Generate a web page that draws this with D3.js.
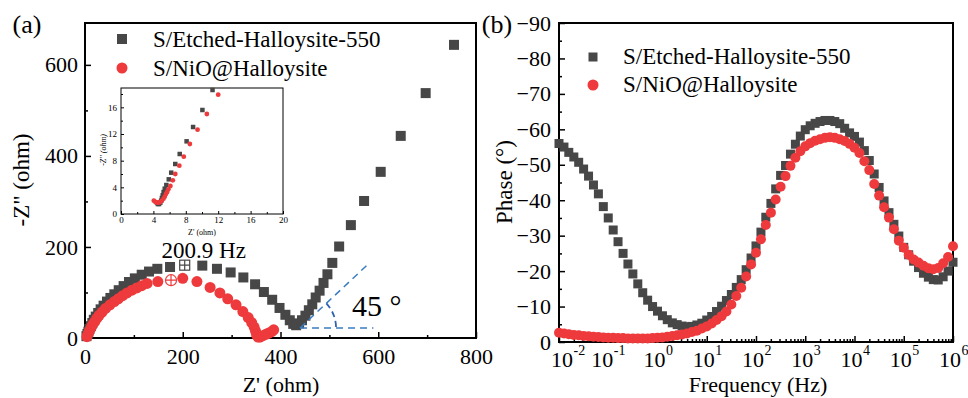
<!DOCTYPE html>
<html lang="en">
<head>
<meta charset="UTF-8" />
<script src="https://cdnjs.cloudflare.com/ajax/libs/d3/7.8.5/d3.min.js"></script>
<title>EIS</title>
<style>
  body { margin: 0; background: #fff; }
  svg text { font-family: "Liberation Serif", "Times New Roman", serif !important; fill: #000; }
  .tick line { stroke: #000; stroke-width: 1.5; }
  .inset .tick line { stroke-width: 1; }
</style>
</head>
<body>
<script>
// ---- data ----
const seriesNames = ["S/Etched-Halloysite-550", "S/NiO@Halloysite"];
const colorEtched = "#474747";
const colorNiO = "#ee3a3c";

// Nyquist (Z', -Z'') in ohm
const nyqEtched = [[3,4],[5,9],[7,14],[9,20],[12,26],[15,33],[18,40],[22,47],[27,55],[32,63],[38,71],[45,80],[52,88],[60,96],[69,105],[79,114],[90,123],[102,131],[116,139],[131,146],[148,152],[174,156],[240,159],[270,152],[298,144],[324,133],[348,118],[366,101],[383,84],[398,66],[410,51],[419,39],[426,31],[432,28],[438,32],[444,39],[451,49],[458,61],[465,74],[472,89],[480,104],[488,121],[496,140],[506,165],[520,201],[544,248],[571,301],[605,365],[646,444],[697,538],[755,644]];
const nyqNiO = [[4,3],[6,8],[8,13],[10,18],[13,24],[16,30],[20,36],[24,43],[29,50],[35,57],[42,65],[51,73],[60,80],[68,86],[77,93],[86,99],[96,105],[106,110],[116,115],[127,120],[149,124],[200,131],[229,124],[256,111],[276,99],[292,86],[309,73],[323,58],[334,45],[341,34],[346,24],[349,15],[351,7],[354,2],[358,2],[364,5],[370,8],[376,11],[382,14],[386,18]];
// points at 200.9 Hz, drawn with open crossed markers
const markEtched = [204, 160];
const markNiO = [176, 127];
const markLabel = "200.9 Hz";
// 45 degree guide (data units)
const guideStart = [440, 22];
const guideEndH = [590, 22];
const guideEndD = [577, 160];

// inset (zoom on high frequency region)
const insetEtched = [[4.45,1.7],[4.55,1.5],[4.7,1.5],[4.85,1.7],[4.95,2.0],[5.05,2.4],[5.15,2.8],[5.26,3.3],[5.4,3.8],[5.6,4.35],[5.9,5.2],[6.2,6.2],[6.7,7.5],[7.25,9.0],[8.1,10.9],[8.9,13.05],[10.05,15.6],[11.3,18.6]];
const insetNiO = [[4.05,2.0],[4.25,1.8],[4.45,1.7],[4.65,1.7],[4.85,1.8],[5.05,2.0],[5.25,2.3],[5.4,2.6],[5.55,3.0],[5.7,3.3],[5.85,3.7],[6.1,4.2],[6.4,5.05],[6.7,6.0],[7.2,7.25],[7.75,8.6],[8.5,10.5],[9.45,12.65],[10.6,15.0],[12.0,17.9]];

// Bode phase
const freq = [0.01,0.0126,0.0158,0.02,0.0251,0.0316,0.0398,0.0501,0.0631,0.0794,
  0.1,0.126,0.158,0.2,0.251,0.316,0.398,0.501,0.631,0.794,
  1,1.26,1.58,2,2.51,3.16,3.98,5.01,6.31,7.94,
  10,12.6,15.8,20,25.1,31.6,39.8,50.1,63.1,79.4,
  100,126,158,200.9,251,316,398,501,631,794,
  1000,1259,1585,1995,2512,3162,3981,5012,6310,7943,
  10000,12589,15849,19953,25119,31623,39811,50119,63096,79433,
  100000,125893,158489,199526,251189,316228,398107,501187,630957,794328,1000000];
const phaseEtched = [-56,-55,-53.5,-52.2,-50.7,-48.8,-46.8,-44.3,-41.8,-38.2,
  -35,-31.6,-28.3,-25,-22,-19.2,-16.4,-13.9,-11.8,-10,
  -8.7,-7.4,-6.3,-5.4,-4.9,-4.5,-4.3,-4.4,-4.8,-5.3,
  -6.2,-7.2,-8.6,-10.1,-11.7,-13.4,-15.4,-17.6,-20.4,-23.7,
  -27.1,-31,-35.2,-39.1,-43.2,-47,-49.8,-53,-55.8,-58.1,
  -59.9,-61,-61.7,-62.2,-62.5,-62.5,-62.2,-61.6,-60.3,-59,
  -58,-56.4,-54,-51.2,-47.4,-43.6,-39.8,-36.5,-33.2,-29.9,
  -26.7,-24.6,-22.8,-21,-19.4,-18.3,-17.6,-17.5,-18.4,-20,-22.5];
const phaseNiO = [-2.6,-2.4,-2.2,-2,-1.9,-1.7,-1.6,-1.5,-1.4,-1.3,
  -1.2,-1.2,-1.1,-1.1,-1,-1,-1,-1,-1,-1.1,
  -1.2,-1.3,-1.5,-1.7,-1.9,-2.1,-2.4,-2.8,-3.2,-3.8,
  -4.4,-5.2,-6.2,-7.3,-8.6,-10.6,-13,-15.3,-18.5,-21.9,
  -25.2,-29,-33,-36.5,-40.2,-43.8,-46.8,-49.7,-52,-53.8,
  -55.2,-56.1,-56.8,-57.2,-57.6,-57.8,-57.6,-57.2,-56.7,-55.9,
  -54.8,-53.3,-51,-48.5,-44.6,-41.3,-38,-35.1,-31.8,-28.6,
  -26.6,-24.6,-23.3,-22.4,-21.5,-20.8,-20.5,-20.9,-22.2,-24,-27];

const ticksA_x = [0, 200, 400, 600, 800];
const ticksA_y = [0, 200, 400, 600];
const ticksB_y = [0, -10, -20, -30, -40, -50, -60, -70, -80, -90];
const decades = [-2, -1, 0, 1, 2, 3, 4, 5, 6];

// ---- drawing ----
const FONT = "Liberation Serif, Times New Roman, serif";
const svg = d3.select("body").append("svg").attr("width", 968).attr("height", 398)
  .attr("font-family", FONT);

const A = { left: 85, right: 476, top: 23, bottom: 338 };
const B = { left: 559, right: 953, top: 23, bottom: 342 };
const I = { left: 121, right: 283, top: 88, bottom: 214 };

const xA = d3.scaleLinear().domain([0, 800]).range([A.left, A.right]);
const yA = d3.scaleLinear().domain([0, 692]).range([A.bottom, A.top]);
const xI = d3.scaleLinear().domain([0, 20]).range([I.left, I.right]);
const yI = d3.scaleLinear().domain([0, 18.9]).range([I.bottom, I.top]);
const xB = d3.scaleLog().domain([0.01, 1e6]).range([B.left, B.right]);
const yB = d3.scaleLinear().domain([0, -90]).range([B.bottom, B.top]);

function squares(g, data, x, y, size, color) {
  g.append("g").selectAll("rect").data(data).join("rect")
    .attr("x", d => x(d[0]) - size / 2).attr("y", d => y(d[1]) - size / 2)
    .attr("width", size).attr("height", size).attr("fill", color);
}
function circles(g, data, x, y, r, color) {
  g.append("g").selectAll("circle").data(data).join("circle")
    .attr("cx", d => x(d[0])).attr("cy", d => y(d[1])).attr("r", r).attr("fill", color);
}
function cleanAxis(g, fs) {
  g.select(".domain").remove();
  g.attr("font-family", FONT);
  g.selectAll("text").attr("font-size", fs).attr("fill", "#000");
}

// ---------- panel (a) ----------
const ga = svg.append("g");
ga.append("g").attr("transform", `translate(0,${A.bottom})`)
  .call(d3.axisBottom(xA).tickValues(d3.range(100, 800, 200)).tickSize(-3).tickFormat(""))
  .call(g => cleanAxis(g, 22));
ga.append("g").attr("transform", `translate(0,${A.bottom})`)
  .call(d3.axisBottom(xA).tickValues(ticksA_x).tickSize(-6).tickPadding(10))
  .call(g => cleanAxis(g, 22));
ga.append("g").attr("transform", `translate(${A.left},0)`)
  .call(d3.axisLeft(yA).tickValues([100, 300, 500]).tickSize(-3).tickFormat(""))
  .call(g => cleanAxis(g, 22));
ga.append("g").attr("transform", `translate(${A.left},0)`)
  .call(d3.axisLeft(yA).tickValues(ticksA_y).tickSize(-6).tickPadding(7))
  .call(g => cleanAxis(g, 22));
ga.append("rect").attr("x", A.left).attr("y", A.top)
  .attr("width", A.right - A.left).attr("height", A.bottom - A.top)
  .attr("fill", "none").attr("stroke", "#000").attr("stroke-width", 2);

squares(ga, nyqEtched, xA, yA, 10, colorEtched);
circles(ga, nyqNiO, xA, yA, 5.5, colorNiO);

// 200.9 Hz markers
const mE = [xA(markEtched[0]), yA(markEtched[1])];
ga.append("rect").attr("x", mE[0] - 5).attr("y", mE[1] - 5).attr("width", 10).attr("height", 10)
  .attr("fill", "#fff").attr("stroke", colorEtched).attr("stroke-width", 1.2);
ga.append("path").attr("d", `M${mE[0] - 5},${mE[1]}H${mE[0] + 5}M${mE[0]},${mE[1] - 5}V${mE[1] + 5}`)
  .attr("stroke", colorEtched).attr("stroke-width", 1.2);
const mN = [xA(markNiO[0]), yA(markNiO[1])];
ga.append("circle").attr("cx", mN[0]).attr("cy", mN[1]).attr("r", 5.5)
  .attr("fill", "#fff").attr("stroke", colorNiO).attr("stroke-width", 1.2);
ga.append("path").attr("d", `M${mN[0] - 5.5},${mN[1]}H${mN[0] + 5.5}M${mN[0]},${mN[1] - 5.5}V${mN[1] + 5.5}`)
  .attr("stroke", colorNiO).attr("stroke-width", 1.2);
ga.append("text").attr("x", mE[0] + 19).attr("y", 258)
  .attr("text-anchor", "middle").attr("font-size", 23).text(markLabel);

// 45 degree guide
const blue = "#3a7cc0";
const gx0 = xA(guideStart[0]), gy0 = yA(guideStart[1]);
ga.append("path")
  .attr("d", `M${gx0},${gy0}H${xA(guideEndH[0])}M${gx0},${gy0}L${xA(guideEndD[0])},${yA(guideEndD[1])}`)
  .attr("stroke", blue).attr("stroke-width", 1.5).attr("stroke-dasharray", "7,5").attr("fill", "none");
const ang = Math.atan2(gy0 - yA(guideEndD[1]), xA(guideEndD[0]) - gx0);
const rr = 36;
ga.append("path")
  .attr("d", `M${gx0 + rr * Math.cos(ang)},${gy0 - rr * Math.sin(ang)}A${rr},${rr} 0 0 1 ${gx0 + rr},${gy0}`)
  .attr("stroke", "#2f62b0").attr("stroke-width", 1.8).attr("stroke-dasharray", "6,4").attr("fill", "none");
ga.append("text").attr("x", 352).attr("y", 316).attr("font-size", 30).text("45 °");

// legend (a)
ga.append("rect").attr("x", 117).attr("y", 34).attr("width", 10).attr("height", 10).attr("fill", colorEtched);
ga.append("text").attr("x", 153).attr("y", 47).attr("font-size", 23).text(seriesNames[0]);
ga.append("circle").attr("cx", 122).attr("cy", 68).attr("r", 5.5).attr("fill", colorNiO);
ga.append("text").attr("x", 153).attr("y", 76).attr("font-size", 23).text(seriesNames[1]);

// axis titles (a)
ga.append("text").attr("x", 27).attr("y", 33).attr("text-anchor", "middle").attr("font-size", 26).text("(a)");
ga.append("text").attr("transform", "translate(29,180) rotate(-90)")
  .attr("text-anchor", "middle").attr("font-size", 23).text('-Z" (ohm)');
ga.append("text").attr("x", 281).attr("y", 392).attr("text-anchor", "middle").attr("font-size", 22).text("Z' (ohm)");

// inset
const gi = svg.append("g").attr("class", "inset");
gi.append("rect").attr("x", I.left).attr("y", I.top).attr("width", I.right - I.left).attr("height", I.bottom - I.top)
  .attr("fill", "#fff");
gi.append("g").attr("transform", `translate(0,${I.bottom})`)
  .call(d3.axisBottom(xI).tickValues(d3.range(2, 20, 4)).tickSize(-2).tickFormat(""))
  .call(g => cleanAxis(g, 9));
gi.append("g").attr("transform", `translate(0,${I.bottom})`)
  .call(d3.axisBottom(xI).tickValues(d3.range(0, 21, 4)).tickSize(-3).tickPadding(3))
  .call(g => cleanAxis(g, 9));
gi.append("g").attr("transform", `translate(${I.left},0)`)
  .call(d3.axisLeft(yI).tickValues(d3.range(2, 19, 4)).tickSize(-2).tickFormat(""))
  .call(g => cleanAxis(g, 9));
gi.append("g").attr("transform", `translate(${I.left},0)`)
  .call(d3.axisLeft(yI).tickValues(d3.range(0, 17, 4)).tickSize(-3).tickPadding(4))
  .call(g => cleanAxis(g, 9));
gi.append("rect").attr("x", I.left).attr("y", I.top).attr("width", I.right - I.left).attr("height", I.bottom - I.top)
  .attr("fill", "none").attr("stroke", "#000").attr("stroke-width", 1);
squares(gi, insetEtched, xI, yI, 4.5, colorEtched);
circles(gi, insetNiO, xI, yI, 2.4, colorNiO);
gi.append("text").attr("x", (I.left + I.right) / 2).attr("y", 235).attr("text-anchor", "middle")
  .attr("font-size", 8).text("Z' (ohm)");
gi.append("text").attr("transform", "translate(106,150) rotate(-90)").attr("text-anchor", "middle")
  .attr("font-size", 8).attr("font-style", "italic").text("-Z'' (ohm)");

// ---------- panel (b) ----------
const gb = svg.append("g");
const minorLog = [];
decades.slice(0, -1).forEach(e => { for (let k = 2; k < 10; k++) minorLog.push(k * Math.pow(10, e)); });
gb.append("g").attr("transform", `translate(0,${B.bottom})`)
  .call(d3.axisBottom(xB).tickValues(minorLog).tickSize(-3).tickFormat(""))
  .call(g => cleanAxis(g, 22));
gb.append("g").attr("transform", `translate(0,${B.bottom})`)
  .call(d3.axisBottom(xB).tickValues(decades.map(e => Math.pow(10, e))).tickSize(-6).tickFormat(""))
  .call(g => cleanAxis(g, 22));
// decade labels: base "10" and raised exponent as separate texts
const labelShift = e => (e === -2 ? 14 : e < 0 ? 5 : 8);
const lblG = gb.append("g");
lblG.selectAll("text.base").data(decades).join("text").attr("class", "base")
  .attr("x", e => xB(Math.pow(10, e)) + labelShift(e)).attr("y", 367)
  .attr("text-anchor", "end").attr("font-size", 22).text("10");
lblG.selectAll("text.sup").data(decades).join("text").attr("class", "sup")
  .attr("x", e => xB(Math.pow(10, e)) + labelShift(e) + 0.5).attr("y", 355)
  .attr("text-anchor", "start").attr("font-size", 14).text(e => e);

gb.append("g").attr("transform", `translate(${B.left},0)`)
  .call(d3.axisLeft(yB).tickValues(d3.range(-5, -90, -10)).tickSize(-3).tickFormat(""))
  .call(g => cleanAxis(g, 22));
gb.append("g").attr("transform", `translate(${B.left},0)`)
  .call(d3.axisLeft(yB).tickValues(ticksB_y).tickSize(-6).tickPadding(8))
  .call(g => cleanAxis(g, 22));
gb.append("rect").attr("x", B.left).attr("y", B.top)
  .attr("width", B.right - B.left).attr("height", B.bottom - B.top)
  .attr("fill", "none").attr("stroke", "#000").attr("stroke-width", 2);

squares(gb, freq.map((f, i) => [f, phaseEtched[i]]), xB, yB, 9, colorEtched);
circles(gb, freq.map((f, i) => [f, phaseNiO[i]]), xB, yB, 5, colorNiO);

// legend (b)
gb.append("rect").attr("x", 588.5).attr("y", 52.5).attr("width", 9).attr("height", 9).attr("fill", colorEtched);
gb.append("text").attr("x", 623).attr("y", 64).attr("font-size", 23).text(seriesNames[0]);
gb.append("circle").attr("cx", 593).attr("cy", 85).attr("r", 5.5).attr("fill", colorNiO);
gb.append("text").attr("x", 623).attr("y", 92).attr("font-size", 23).text(seriesNames[1]);

gb.append("text").attr("x", 497).attr("y", 33).attr("text-anchor", "middle").attr("font-size", 26).text("(b)");
gb.append("text").attr("transform", "translate(512,182) rotate(-90)")
  .attr("text-anchor", "middle").attr("font-size", 23).text("Phase (°)");
gb.append("text").attr("x", 758).attr("y", 392).attr("text-anchor", "middle").attr("font-size", 22).text("Frequency (Hz)");
</script>
</body>
</html>
